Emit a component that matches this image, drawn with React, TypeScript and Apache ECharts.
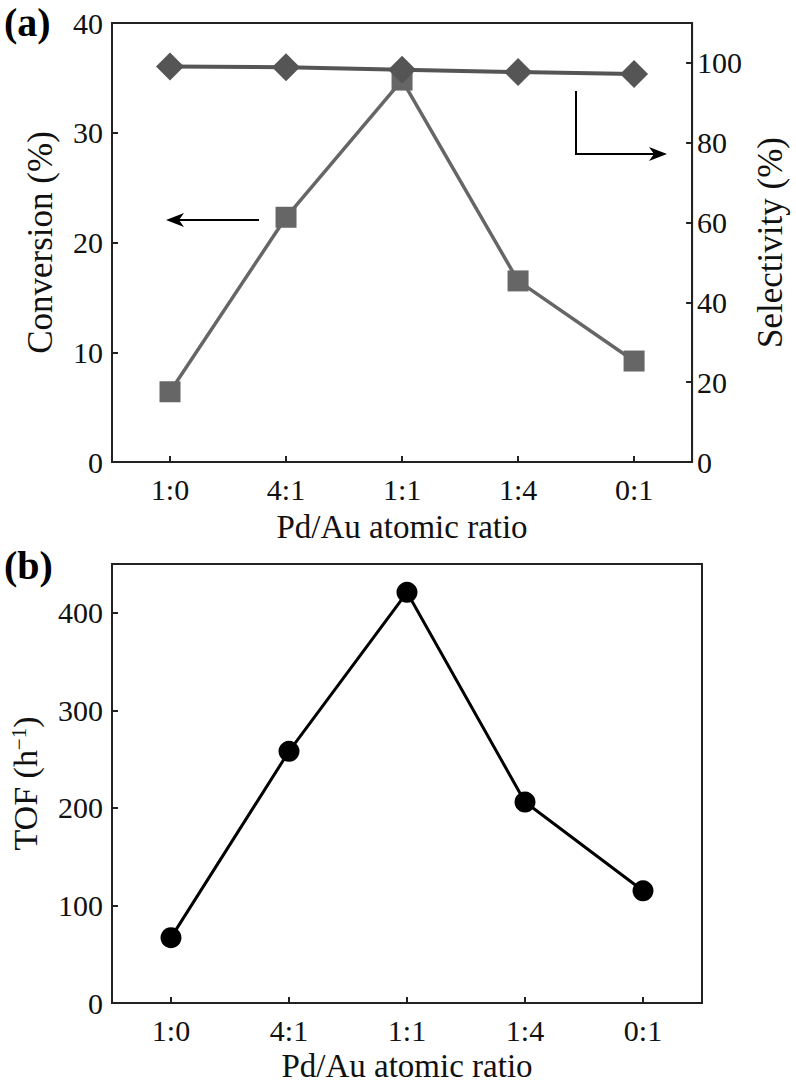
import React, { useEffect, useRef } from "react";
import * as echarts from "echarts";

const ratios = ["1:0", "4:1", "1:1", "1:4", "0:1"];
const conversion = [6.4, 22.3, 34.8, 16.5, 9.2];
const selectivity = [99.1, 98.9, 98.3, 97.7, 97.2];
const tof = [67, 258, 421, 206, 115];

const FONT = "'Liberation Serif', 'Times New Roman', serif";
const AX = "#222";
const TXT = "#111";

export default function App() {
  const ref = useRef<HTMLDivElement>(null);
  useEffect(() => {
    const chart = echarts.init(ref.current!, null, { renderer: "svg" });
    const axisLine = { show: true, lineStyle: { color: AX, width: 2 } };
    const tick = { show: true, inside: true, length: 6, lineStyle: { color: AX, width: 2 } };
    const ylab = { color: TXT, fontSize: 30, fontFamily: FONT };
    const xAxisBase = (gi: number, gap: number) => ({
      type: "category",
      gridIndex: gi,
      data: ratios,
      boundaryGap: true,
      axisLine,
      axisTick: { ...tick, alignWithLabel: true },
      axisLabel: { color: TXT, fontSize: 30, fontFamily: FONT, margin: 12 },
      splitLine: { show: false },
      name: "Pd/Au atomic ratio",
      nameLocation: "middle",
      nameGap: gap,
      nameTextStyle: { color: TXT, fontSize: 33, fontFamily: FONT },
    });
    chart.setOption({
      animation: false,
      backgroundColor: "#fff",
      grid: [
        { left: 112, top: 23, width: 590, height: 439, show: true, borderColor: AX, borderWidth: 2, backgroundColor: "transparent" },
        { left: 112, top: 564, width: 590, height: 439, show: true, borderColor: AX, borderWidth: 2, backgroundColor: "transparent" },
      ],
      xAxis: [xAxisBase(0, 48), xAxisBase(1, 46)],
      yAxis: [
        {
          type: "value", gridIndex: 0, position: "left", min: 0, max: 40, interval: 10,
          axisLine, axisTick: tick, splitLine: { show: false },
          axisLabel: { ...ylab, margin: 9 },
          name: "Conversion (%)", nameLocation: "middle", nameGap: 54,
          nameTextStyle: { color: TXT, fontSize: 35, fontFamily: FONT },
        },
        {
          type: "value", gridIndex: 0, position: "right", min: 0, max: 110, interval: 20,
          axisLine, axisTick: tick, splitLine: { show: false },
          axisLabel: { ...ylab, margin: 5, showMaxLabel: false },
          name: "Selectivity (%)", nameLocation: "middle", nameGap: 55,
          nameTextStyle: { color: TXT, fontSize: 35, fontFamily: FONT },
        },
        {
          type: "value", gridIndex: 1, position: "left", min: 0, max: 450, interval: 100,
          axisLine, axisTick: tick, splitLine: { show: false },
          axisLabel: { ...ylab, margin: 9, showMaxLabel: false },
          name: "TOF (h{sup|−1})", nameLocation: "middle", nameGap: 70,
          nameTextStyle: {
            color: TXT, fontSize: 34, fontFamily: FONT,
            rich: { sup: { fontSize: 21, fontFamily: FONT, color: TXT, verticalAlign: "top", lineHeight: 16 } },
          },
        },
      ],
      series: [
        {
          type: "line", xAxisIndex: 0, yAxisIndex: 0, data: conversion,
          symbol: "rect", symbolSize: 21,
          lineStyle: { color: "#666", width: 3.5 }, itemStyle: { color: "#666" },
        },
        {
          type: "line", xAxisIndex: 0, yAxisIndex: 1, data: selectivity,
          symbol: "diamond", symbolSize: 28,
          lineStyle: { color: "#555", width: 4 }, itemStyle: { color: "#555" },
        },
        {
          type: "line", xAxisIndex: 1, yAxisIndex: 2, data: tof,
          symbol: "circle", symbolSize: 21,
          lineStyle: { color: "#000", width: 3 }, itemStyle: { color: "#000" },
        },
      ],
      graphic: [
        { type: "text", left: 4, top: 2, style: { text: "(a)", fontSize: 40, fontWeight: "bold", fontFamily: FONT, fill: "#000" } },
        { type: "text", left: 4, top: 545, style: { text: "(b)", fontSize: 40, fontWeight: "bold", fontFamily: FONT, fill: "#000" } },
        { type: "line", shape: { x1: 259, y1: 220, x2: 178, y2: 220 }, style: { stroke: "#000", lineWidth: 2 } },
        { type: "polygon", shape: { points: [[166, 220], [184, 213], [179, 220], [184, 227]] }, style: { fill: "#000" } },
        { type: "polyline", shape: { points: [[576, 91], [576, 154], [656, 154]] }, style: { stroke: "#000", lineWidth: 2, fill: null } },
        { type: "polygon", shape: { points: [[667, 154], [649, 147], [654, 154], [649, 161]] }, style: { fill: "#000" } },
      ],
    });
    return () => chart.dispose();
  }, []);
  return <div ref={ref} style={{ position: "absolute", left: 0, top: 0, width: 796, height: 1088 }} />;
}
